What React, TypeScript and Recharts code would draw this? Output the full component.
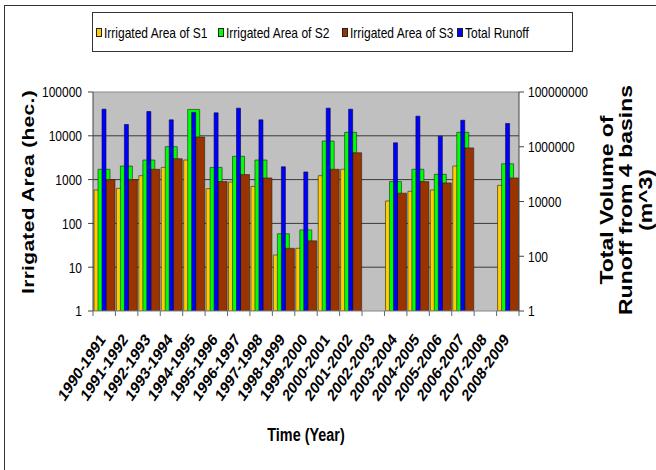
import { BarChart, Bar, XAxis, YAxis, CartesianGrid, ReferenceLine } from "recharts";

const categories = [
  "1990-1991", "1991-1992", "1992-1993", "1993-1994", "1994-1995",
  "1995-1996", "1996-1997", "1997-1998", "1998-1999", "1999-2000",
  "2000-2001", "2001-2002", "2002-2003", "2003-2004", "2004-2005",
  "2005-2006", "2006-2007", "2007-2008", "2008-2009",
];

// irrigated area (hec.), left log axis
const s1Area = [580, 630, 1230, 1900, 2800, 620, 880, 700, 19, 27, 1230, 1720, null, 325, 540, 580, 2040, null, 740];
const s2Area = [1720, 2040, 2800, 5650, 40000, 1900, 3400, 2800, 58, 71, 7600, 12000, null, 900, 1720, 1320, 12000, null, 2300];
const s3Area = [1000, 1000, 1720, 3000, 9400, 900, 1300, 1090, 27, 40, 1720, 4100, null, 490, 900, 840, 5300, null, 1090];

// total runoff volume (m^3), right log axis
const totalRunoff = [23500000, 6500000, 19400000, 9600000, 18000000, 17300000, 25700000, 9600000, 185000, 120000, 25700000, 23500000, null, 1390000, 13100000, 2440000, 9300000, null, 7100000];

const leftTicks = [1, 10, 100, 1000, 10000, 100000];
const rightTicks = [1, 100, 10000, 1000000, 100000000];

const SERIES = [
  { key: "s1", name: "Irrigated Area of S1", color: "#FFCC00" },
  { key: "s2", name: "Irrigated Area of S2", color: "#00FF00" },
  { key: "s3", name: "Irrigated Area of S3", color: "#993300" },
  { key: "runoff", name: "Total Runoff", color: "#0000FF" },
];

const data = categories.map((year, i) => ({
  year,
  s1: s1Area[i],
  s2: s2Area[i],
  s3: s3Area[i],
  runoff: totalRunoff[i],
}));

// the original picture is squeezed horizontally, so text gets a scaleX
const FONT = "'Liberation Sans', Arial, sans-serif";
const SQ = 0.8;
const LEGEND_LEFT = [96, 218, 342, 457];

const YearTick = ({ x, y, payload, index }: any) => {
  const half = payload?.offset ?? 11.2;
  const last = index === categories.length - 1;
  return (
    <g>
      <line x1={x - half} y1={y} x2={x - half} y2={y + 5} stroke="#666" />
      {last && <line x1={x + half} y1={y} x2={x + half} y2={y + 5} stroke="#666" />}
      <text
        x={0}
        y={0}
        transform={`translate(${x + 2}, ${y + 29}) scale(${SQ}, 1) rotate(-50)`}
        textAnchor="end"
        fontFamily={FONT}
        fontWeight="bold"
        fontSize={17}
        fill="#000"
      >
        {payload.value}
      </text>
    </g>
  );
};

const LogTick = ({ x, y, payload, anchor }: any) => (
  <text
    x={0}
    y={0}
    dy="0.36em"
    transform={`translate(${x}, ${y}) scale(${SQ}, 1)`}
    textAnchor={anchor}
    fontFamily={FONT}
    fontSize={15}
    fill="#000"
  >
    {String(payload.value)}
  </text>
);

export default function App() {
  return (
    <div style={{ position: "absolute", left: 0, top: 0, width: 656, height: 470, background: "#fff", overflow: "hidden" }}>
      {/* outer frame */}
      <div style={{ position: "absolute", left: 4, top: 5, width: 700, height: 500, borderTop: "1.5px solid #333", borderLeft: "1.5px solid #333" }} />

      <BarChart
        width={656}
        height={470}
        data={data}
        margin={{ top: 92, right: 0, bottom: 0, left: 0 }}
        barGap={-4}
        style={{ position: "absolute", left: 0, top: 0 }}
      >
        <CartesianGrid yAxisId="left" vertical={false} fill="#C0C0C0" stroke="#3a3a3a" horizontalValues={[10, 100, 1000, 10000]} />
        <XAxis
          xAxisId="area"
          dataKey="year"
          height={159}
          interval={0}
          tickLine={false}
          tickSize={0}
          tickMargin={0}
          axisLine={{ stroke: "#888" }}
          tick={<YearTick />}
        />
        <XAxis xAxisId="runoff" dataKey="year" hide />
        <YAxis
          yAxisId="left"
          scale="log"
          domain={[1, 100000]}
          ticks={leftTicks}
          width={93}
          tickSize={5}
          tickMargin={6}
          axisLine={{ stroke: "#444" }}
          tickLine={{ stroke: "#444" }}
          tick={<LogTick anchor="end" />}
          interval={0}
          allowDataOverflow
        />
        <YAxis
          yAxisId="right"
          orientation="right"
          scale="log"
          domain={[1, 100000000]}
          ticks={rightTicks}
          width={137}
          tickSize={5}
          tickMargin={4}
          axisLine={{ stroke: "#444" }}
          tickLine={{ stroke: "#444" }}
          tick={<LogTick anchor="start" />}
          interval={0}
          allowDataOverflow
        />
        <ReferenceLine yAxisId="left" xAxisId="area" y={100000} stroke="#8a8a8a" />
        <Bar xAxisId="area" yAxisId="left" dataKey="s1" name={SERIES[0].name} fill={SERIES[0].color} stroke="#222" strokeWidth={0.6} barSize={8} isAnimationActive={false} />
        <Bar xAxisId="area" yAxisId="left" dataKey="s2" name={SERIES[1].name} fill={SERIES[1].color} stroke="#222" strokeWidth={0.6} barSize={12} isAnimationActive={false} />
        <Bar xAxisId="area" yAxisId="left" dataKey="s3" name={SERIES[2].name} fill={SERIES[2].color} stroke="#222" strokeWidth={0.6} barSize={9} isAnimationActive={false} />
        <Bar xAxisId="runoff" yAxisId="right" dataKey="runoff" name={SERIES[3].name} fill={SERIES[3].color} stroke="#000040" strokeWidth={0.6} barSize={4} isAnimationActive={false} />
      </BarChart>

      {/* legend */}
      <div style={{ position: "absolute", left: 92, top: 12, width: 481, height: 40, border: "1px solid #333", boxSizing: "border-box" }} />
      {SERIES.map((s, i) => (
        <div key={s.key} style={{ position: "absolute", left: LEGEND_LEFT[i], top: 23, height: 18, display: "flex", alignItems: "center" }}>
          <span style={{ display: "inline-block", width: 4, height: 7, background: s.color, border: "1px solid #222" }} />
          <span
            style={{
              display: "inline-block", marginLeft: 2, whiteSpace: "nowrap",
              fontFamily: FONT, fontSize: 15, color: "#000",
              transform: `scaleX(${SQ})`, transformOrigin: "0 50%",
            }}
          >
            {s.name}
          </span>
        </div>
      ))}

      {/* left axis title */}
      <div
        style={{
          position: "absolute", left: 28, top: 192,
          transform: `translate(-50%, -50%) rotate(-90deg) scaleY(${SQ})`,
          whiteSpace: "nowrap", fontFamily: FONT, fontWeight: "bold", fontSize: 21, letterSpacing: 0.3,
        }}
      >
        Irrigated Area (hec.)
      </div>

      {/* right axis title */}
      <div
        style={{
          position: "absolute", left: 626, top: 200,
          transform: `translate(-50%, -50%) rotate(-90deg) scaleY(${SQ})`,
          whiteSpace: "nowrap", fontFamily: FONT, fontWeight: "bold", fontSize: 23,
          textAlign: "center", lineHeight: "24px",
        }}
      >
        Total Volume of
        <br />
        Runoff from 4 basins
        <br />
        (m^3)
      </div>

      {/* x axis title */}
      <div
        style={{
          position: "absolute", left: 306, top: 435,
          transform: `translate(-50%, -50%) scaleX(${SQ})`,
          whiteSpace: "nowrap", fontFamily: FONT, fontWeight: "bold", fontSize: 18,
        }}
      >
        Time (Year)
      </div>
    </div>
  );
}
